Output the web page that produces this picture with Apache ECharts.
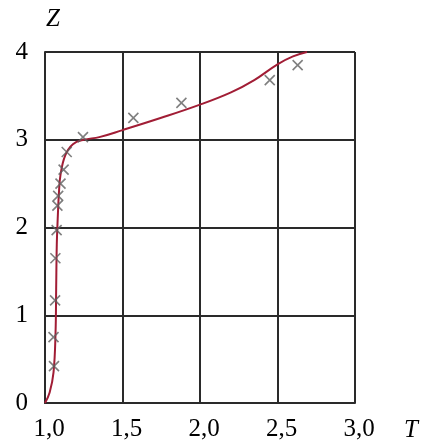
<!DOCTYPE html>
<html>
<head>
<meta charset="utf-8">
<script src="https://cdn.jsdelivr.net/npm/echarts@6/dist/echarts.min.js"></script>
<style>
html,body{margin:0;padding:0;background:#fff;}
#c{width:428px;height:442px;}
</style>
</head>
<body>
<div id="c"></div>
<script>
// Fitted curve (T, Z)
var curveT = [1.0, 1.03, 1.055, 1.068, 1.072, 1.076, 1.082, 1.09, 1.1, 1.13, 1.18, 1.25, 1.35, 1.5, 1.75, 2.0, 2.2, 2.35, 2.5, 2.6, 2.69];
var curveZ = [0.0, 0.12, 0.35, 0.8, 1.3, 1.8, 2.1, 2.4, 2.6, 2.82, 2.95, 3.0, 3.03, 3.11, 3.25, 3.4, 3.54, 3.68, 3.86, 3.95, 4.0];
// Measured points (T, Z)
var markT = [1.058, 1.055, 1.065, 1.067, 1.075, 1.08, 1.085, 1.1, 1.12, 1.14, 1.245, 1.57, 1.88, 2.45, 2.63];
var markZ = [0.42, 0.75, 1.17, 1.65, 1.97, 2.25, 2.36, 2.5, 2.66, 2.86, 3.03, 3.25, 3.42, 3.68, 3.85];
// Axis ticks
var xTicks = [1.0, 1.5, 2.0, 2.5, 3.0];
var yTicks = [0, 1, 2, 3, 4];

function pairs(a, b) { return a.map(function (v, i) { return [v, b[i]]; }); }

var chart = echarts.init(document.getElementById('c'));
var font = '"Liberation Serif", "Times New Roman", serif';
var lineCol = '#2a2a2a';
chart.setOption({
  animation: false,
  backgroundColor: '#fff',
  grid: { left: 45, right: 73, top: 52, bottom: 39 },
  xAxis: {
    type: 'value', min: xTicks[0], max: xTicks[xTicks.length - 1], interval: 0.5,
    axisLine: { show: true, lineStyle: { color: lineCol, width: 2 } },
    axisTick: { show: false },
    splitLine: { show: true, lineStyle: { color: lineCol, width: 2 } },
    axisLabel: {
      margin: 14, color: '#000', fontFamily: font, fontSize: 25, padding: [0, 0, 0, 8],
      formatter: function (v) { return v.toFixed(1).replace('.', ','); }
    }
  },
  yAxis: {
    type: 'value', min: yTicks[0], max: yTicks[yTicks.length - 1], interval: 1,
    axisLine: { show: true, lineStyle: { color: lineCol, width: 2 } },
    axisTick: { show: false },
    splitLine: { show: true, lineStyle: { color: lineCol, width: 2 } },
    axisLabel: { margin: 17, color: '#000', fontFamily: font, fontSize: 25 }
  },
  graphic: [
    { type: 'text', left: 46, top: 7, style: { text: 'Z', fontFamily: font, fontStyle: 'italic', fontSize: 25, fill: '#000' } },
    { type: 'text', left: 404, top: 418, style: { text: 'T', fontFamily: font, fontStyle: 'italic', fontSize: 25, fill: '#000' } }
  ],
  series: [
    {
      type: 'line', data: pairs(curveT, curveZ), smooth: 0.4, showSymbol: false,
      lineStyle: { color: '#a11d35', width: 2 }, z: 3
    },
    {
      type: 'scatter', data: pairs(markT, markZ),
      symbol: 'path://M0,0L10,10M10,0L0,10', symbolSize: 10,
      itemStyle: { color: 'none', borderColor: '#5f5f5f', borderWidth: 1.6 }, z: 4
    }
  ]
});
</script>
</body>
</html>
